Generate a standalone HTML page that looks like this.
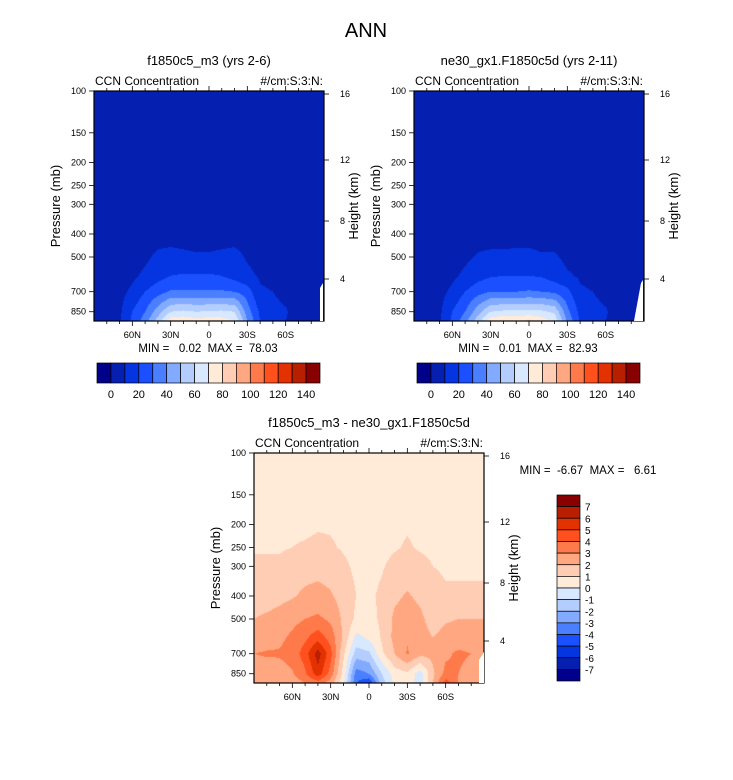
<!DOCTYPE html>
<html><head><meta charset="utf-8">
<style>
body{margin:0;background:#fff;}
#root{position:relative;width:733px;height:780px;overflow:hidden;font-family:"Liberation Sans",sans-serif;}
svg text{font-family:"Liberation Sans",sans-serif;fill:#000;white-space:pre;}
canvas{position:absolute;}
</style></head>
<body>
<div id="root">
<canvas id="c1" width="230" height="230" style="left:94px;top:91px"></canvas>
<canvas id="c2" width="230" height="230" style="left:414px;top:91px"></canvas>
<canvas id="c3" width="230" height="230" style="left:254px;top:453px"></canvas>
<svg id="s" width="733" height="780" style="position:absolute;left:0;top:0"></svg>
</div>
<script>
const lats=[90,80,70,60,50,40,30,20,10,0,-10,-20,-30,-40,-50,-60,-70,-80,-90];
const presTop=[100,200,300,400,500,600,700,850,930];
const fieldA=[
[2,2,2,2,2,2,2,2,2,2,2,2,2,2,2,2,2,2,2],
[2,2,2,2,2,2,2,2,2,2,2,2,2,2,2,2,2,2,2],
[3,3,3,3,3,3,3,3,3,3,3,3,3,3,3,3,3,3,3],
[4,4,4,4,5,6,6,6,6,6,6,6,5,4,4,4,4,4,4],
[4,4,5,6,8,12,13,12,11,11,12,13,9,7,6,5,4,4,4],
[4,4,5,8,12,16,20,21,21,21,20,16,12,9,8,6,5,4,4],
[4,5,7,12,20,26,31,31,31,31,31,30,25,11,10,7,5,4,4],
[4,5,8,20,30,45,60,62,60,61,62,60,35,18,13,11,5,4,3],
[4,5,9,22,35,55,76,78,74,77,75,70,40,20,14,10,6,3,3]];
const fieldB=[
[2,2,2,2,2,2,2,2,2,2,2,2,2,2,2,2,2,2,2],
[2,2,2,2,2,2,2,2,2,2,2,2,2,2,2,2,2,2,2],
[3,3,3,3,3,3,3,3,3,3,3,3,3,3,3,3,3,3,3],
[4,4,4,4,5,6,6,6,7,7,6,6,5,4,4,4,4,4,4],
[4,4,5,6,8,11,12,12,12,12,11,11,8,7,6,5,4,4,4],
[4,4,5,8,12,16,19,20,20,20,19,15,11,9,8,6,5,4,4],
[4,5,7,12,20,26,30,30,30,31,30,28,23,11,10,7,5,4,4],
[4,5,8,20,30,46,60,62,62,63,62,58,33,17,13,11,5,4,3],
[4,5,9,22,36,56,76,80,78,82,76,68,38,19,14,10,6,3,3]];
const presDiff=[100,200,250,300,400,500,600,700,850,930];
const fieldD=[
[0.5,0.5,0.5,0.5,0.5,0.5,0.5,0.5,0.5,0.5,0.5,0.5,0.5,0.5,0.5,0.5,0.5,0.5,0.5],
[0.8,0.8,0.8,0.8,0.8,0.9,0.9,0.8,0.8,0.8,0.8,0.8,0.9,0.8,0.8,0.8,0.8,0.8,0.8],
[0.9,0.9,0.9,1.0,1.1,1.2,1.1,0.9,0.6,0.5,0.7,0.9,1.1,0.9,0.8,0.8,0.8,0.8,0.8],
[1.2,1.2,1.2,1.4,1.6,1.7,1.6,1.2,0.8,0.6,0.9,1.3,1.5,1.3,1.0,0.9,0.9,0.9,0.9],
[1.4,1.5,1.7,1.9,2.2,2.3,2.1,1.6,1.0,0.8,1.2,1.8,2.1,1.8,1.3,1.1,1.1,1.1,1.1],
[2.0,2.2,2.4,2.7,3.0,3.2,2.8,1.8,0.8,0.6,1.2,2.2,2.5,2.2,1.6,1.9,2.0,2.0,2.0],
[2.4,2.6,2.8,3.2,3.8,4.6,3.6,1.8,-0.3,0.2,1.1,2.3,2.9,2.4,2.0,2.3,2.4,2.4,2.4],
[3.0,3.1,3.1,3.4,4.5,6.5,4.3,1.2,-1.5,-1.2,0.8,2.0,3.1,2.3,2.3,2.8,3.2,3.0,2.8],
[2.5,2.5,2.6,2.9,3.8,5.6,3.6,0.6,-3.5,-3.0,-1.0,0.5,0.8,-0.5,1.8,3.3,3.0,2.6,2.4],
[2.2,2.2,2.3,2.5,3.0,3.5,2.5,0.2,-4.0,-5.0,-1.5,0.2,0.5,-0.5,2.0,4.5,3.0,2.4,2.2]];
const palette=["#00008a","#0520b0","#0535e0","#1a50ff","#4a80ff","#82aaff","#b3cdff","#d8e8ff","#ffebd8","#ffcdb3","#ffa781","#ff7a4a","#ff501e","#e33200","#b81e00","#880000"];
const topBarLabels=["0","20","40","60","80","100","120","140"];
const diffBarLabels=["7","6","5","4","3","2","1","0","-1","-2","-3","-4","-5","-6","-7"];
const latTicks=[60,30,0,-30,-60];
const latLabels=["60N","30N","0","30S","60S"];
const presTicks=[100,150,200,250,300,400,500,700,850];
const heightTicks=[16,12,8,4];

const W=230,H=230,PB=930;
function yOfP(p){return (Math.log10(p)-2)/(Math.log10(PB)-2)*H;}
function pOfY(y){return Math.pow(10,2+y/H*(Math.log10(PB)-2));}
function xOfLat(lat){return (90-lat)/180*W;}
function hex(c){return [parseInt(c.slice(1,3),16),parseInt(c.slice(3,5),16),parseInt(c.slice(5,7),16)];}
const rgb=palette.map(hex);
function sample(field,pres,lat,p){
  let fi=(90-lat)/10; fi=Math.max(0,Math.min(lats.length-1.0001,fi));
  const i0=Math.floor(fi),tx=fi-i0;
  const lp=Math.log10(Math.max(pres[0],Math.min(pres[pres.length-1],p)));
  let j0=0; while(j0<pres.length-2&&lp>Math.log10(pres[j0+1]))j0++;
  const a=Math.log10(pres[j0]),b=Math.log10(pres[j0+1]);
  const ty=Math.max(0,Math.min(1,(lp-a)/(b-a)));
  const r0=field[j0],r1=field[j0+1];
  const v0=r0[i0]*(1-tx)+r0[i0+1]*tx, v1=r1[i0]*(1-tx)+r1[i0+1]*tx;
  return v0*(1-ty)+v1*ty;
}
function drawField(id,field,pres,idxFn){
  const ctx=document.getElementById(id).getContext('2d');
  const img=ctx.createImageData(W,H);
  for(let y=0;y<H;y++){const p=pOfY(y+0.5);
    for(let x=0;x<W;x++){const lat=90-(x+0.5)/W*180;
      const k=idxFn(sample(field,pres,lat,p));const c=rgb[k];const o=(y*W+x)*4;
      img.data[o]=c[0];img.data[o+1]=c[1];img.data[o+2]=c[2];img.data[o+3]=255;}}
  ctx.putImageData(img,0,0);
}
const idxTop=v=>Math.max(0,Math.min(15,Math.floor(v/10)+1));
const idxDiff=v=>Math.max(0,Math.min(15,Math.floor(v)+8));
drawField('c1',fieldA,presTop,idxTop);
drawField('c2',fieldB,presTop,idxTop);
drawField('c3',fieldD,presDiff,idxDiff);

const svg=document.getElementById('s');const NS="http://www.w3.org/2000/svg";
function el(tag,attrs,name,parent){const e=document.createElementNS(NS,tag);for(const k in attrs)e.setAttribute(k,attrs[k]);


(parent||svg).appendChild(e);return e;}
function txt(x,y,s,size,anchor,name,rot){const t=el('text',{x:x,y:y,'font-size':size,'text-anchor':anchor||'start'},name);if(rot)t.setAttribute('transform','rotate(-90 '+x+' '+y+')');t.textContent=s;return t;}

txt(366,37,"ANN",20,"middle","main-title");
function panel(X,Y,title,leftLabel,rightLabel,minmax,mmX,mmY,key){
  txt(X+115,Y>400?427:65,title,13,"middle",key+"-title");
  txt(X+1,Y-6,leftLabel,12,"start",key+"-variable-label");
  txt(X+229,Y-6,rightLabel,12,"end",key+"-units-label");
  el('rect',{x:X,y:Y,width:W,height:H,fill:'none',stroke:'#000','stroke-width':1.2},key+"-frame");
  for(let l=-80;l<=80;l+=10){const x=X+xOfLat(l);const major=l%30===0;const len=major?5:3;
    el('line',{x1:x,y1:Y+H,x2:x,y2:Y+H+len,stroke:'#000','stroke-width':0.8},key+"-lat-tick");
    el('line',{x1:x,y1:Y,x2:x,y2:Y-len,stroke:'#000','stroke-width':0.8},key+"-lat-tick-top");}
  latTicks.forEach((l,i)=>txt(X+xOfLat(l),Y+H+17,latLabels[i],9.5,"middle",key+"-lat-label"));
  presTicks.forEach(p=>{const y=Y+yOfP(p);el('line',{x1:X-5,y1:y,x2:X,y2:y,stroke:'#000','stroke-width':0.8},key+"-pressure-tick");
    txt(X-8,y+3,String(p),9,"end",key+"-pressure-label");});
  const hY=[Y+3,Y+69,Y+130,Y+188];
  heightTicks.forEach((h,i)=>{el('line',{x1:X+W,y1:hY[i],x2:X+W+5,y2:hY[i],stroke:'#000','stroke-width':0.8},key+"-height-tick");
    txt(X+W+16,hY[i]+3,String(h),9,"start",key+"-height-label");});
  txt(X-34,Y+115,"Pressure (mb)",13,"middle",key+"-y-axis-title",true);
  txt(X+W+34,Y+115,"Height (km)",13,"middle",key+"-right-axis-title",true);
  txt(mmX,mmY,minmax,11.5,"middle",key+"-min-max");
}
panel(94,91,"f1850c5_m3 (yrs 2-6)","CCN Concentration","#/cm:S:3:N:","MIN =   0.02  MAX =  78.03",208,352,"left");
panel(414,91,"ne30_gx1.F1850c5d (yrs 2-11)","CCN Concentration","#/cm:S:3:N:","MIN =   0.01  MAX =  82.93",528,352,"right");
panel(254,453,"f1850c5_m3 - ne30_gx1.F1850c5d","CCN Concentration","#/cm:S:3:N:","MIN =  -6.67  MAX =   6.61",588,474,"diff");
el('polygon',{points:"320,321 320,288 323,283 323,321",fill:'#fff'},"left-missing-data");
el('polygon',{points:"634,321 641,283 643,280 643,321",fill:'#fff'},"right-missing-data");
el('polygon',{points:"479,683 479,660 484,652 484,683",fill:'#fff'},"diff-missing-data");
function hbar(X,key){const w=(320-97)/16;
  palette.forEach((c,i)=>el('rect',{x:X+i*w,y:363,width:w,height:20,fill:c,stroke:'#000','stroke-width':0.7},key+"-colorbar-box"));
  topBarLabels.forEach((s,i)=>txt(X+(1+2*i)*w,398,s,11,"middle",key+"-colorbar-label"));}
hbar(97,"left");hbar(417,"right");
const vh=(681-495)/16;
palette.slice().reverse().forEach((c,i)=>el('rect',{x:557,y:495+i*vh,width:23,height:vh,fill:c,stroke:'#000','stroke-width':0.7},"diff-colorbar-box"));
diffBarLabels.forEach((s,i)=>txt(585,495+(i+1)*vh+4,s,10,"start","diff-colorbar-label"));
</script>
</body></html>
